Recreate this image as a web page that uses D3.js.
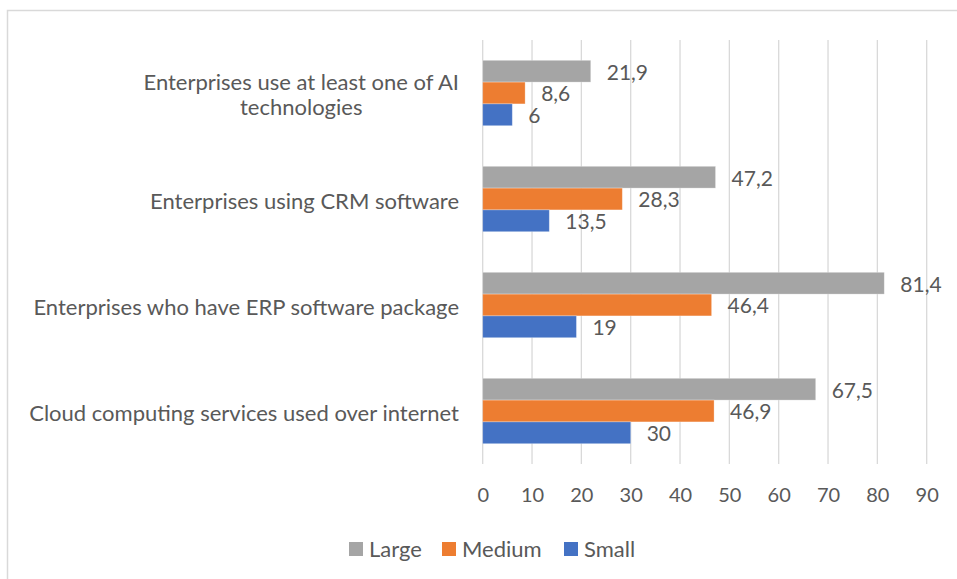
<!DOCTYPE html>
<html>
<head>
<meta charset="utf-8">
<script src="https://cdn.jsdelivr.net/npm/d3@7/dist/d3.min.js"></script>
<style>
  html, body { margin: 0; padding: 0; background: #ffffff; }
  svg { display: block; }
  text { font-family: Lato, "Open Sans", sans-serif; fill: #595959; }
</style>
</head>
<body>
<svg id="chart" width="957" height="579"></svg>
<script>
// Categories, top to bottom
const categories = [
  ["Enterprises use at least one of AI", "technologies"],
  ["Enterprises using CRM software"],
  ["Enterprises who have ERP software package"],
  ["Cloud computing services used over internet"]
];
const seriesNames = ["Large", "Medium", "Small"];
const seriesColors = ["#a5a5a5", "#ed7d31", "#4472c4"];
// Values per series, in category order
const large  = [21.9, 47.2, 81.4, 67.5];
const medium = [8.6, 28.3, 46.4, 46.9];
const small  = [6, 13.5, 19, 30];
const xTicks = [0, 10, 20, 30, 40, 50, 60, 70, 80, 90];

const seriesValues = [large, medium, small];
const fmt = v => String(v).replace(".", ",");

const svg = d3.select("#chart");

// Outer frame
svg.append("rect")
  .attr("x", 7.5).attr("y", 10.5)
  .attr("width", 960).attr("height", 580)
  .attr("fill", "none").attr("stroke", "#d9d9d9").attr("stroke-width", 1.5);

const plot = { left: 482.7, right: 926.7, top: 40, bottom: 464 };

const x = d3.scaleLinear().domain([0, 90]).range([plot.left, plot.right]);
const y0 = d3.scaleBand().domain(d3.range(categories.length))
  .range([plot.top, plot.bottom]).paddingInner(0.383).paddingOuter(0.1915);
const y1 = d3.scaleBand().domain(d3.range(seriesNames.length))
  .range([0, y0.bandwidth()]);

// Vertical gridlines
svg.append("g").selectAll("line").data(xTicks).join("line")
  .attr("x1", d => x(d)).attr("x2", d => x(d))
  .attr("y1", plot.top).attr("y2", plot.bottom)
  .attr("stroke", "#d9d9d9").attr("stroke-width", 1.3);

// X axis labels
const xAxis = d3.axisBottom(x).tickValues(xTicks).tickSize(0).tickPadding(0);
const gx = svg.append("g").attr("transform", `translate(0,${plot.bottom + 31})`).call(xAxis);
gx.select(".domain").remove();
gx.selectAll("text")
  .attr("dy", "0.35em").attr("y", 0)
  .style("font-family", "Lato, 'Open Sans', sans-serif")
  .style("font-size", "20px").style("fill", "#595959");

// Category labels: block right-aligned to the axis, lines centred within it
const catG = svg.append("g");
categories.forEach((lines, i) => {
  const cy = y0(i) + y0.bandwidth() / 2 + 2;
  const lh = 25;
  const t = catG.append("text")
    .attr("text-anchor", "middle")
    .style("font-size", "22px");
  lines.forEach((ln, j) => {
    t.append("tspan")
      .attr("x", 0)
      .attr("y", cy + (j - (lines.length - 1) / 2) * lh)
      .attr("dy", "0.35em")
      .text(ln);
  });
  const w = t.node().getBBox().width;
  t.attr("transform", `translate(${459 - w / 2},0)`);
});

// Bars and value labels
seriesValues.forEach((vals, s) => {
  const g = svg.append("g");
  g.selectAll("rect").data(vals).join("rect")
    .attr("x", x(0))
    .attr("y", (d, i) => y0(i) + y1(s))
    .attr("width", d => x(d) - x(0))
    .attr("height", y1.bandwidth())
    .attr("fill", seriesColors[s])
    .attr("stroke", "#ffffff").attr("stroke-opacity", 0.35).attr("stroke-width", 0.8);
  g.selectAll("text").data(vals).join("text")
    .attr("x", d => x(d) + 16)
    .attr("y", (d, i) => y0(i) + y1(s) + y1.bandwidth() / 2 + 1)
    .attr("dy", "0.35em")
    .style("font-size", "21px")
    .text(d => fmt(d));
});

// Legend
const legendItems = [
  { name: "Large", sx: 349 },
  { name: "Medium", sx: 442 },
  { name: "Small", sx: 564 }
];
const lg = svg.append("g");
legendItems.forEach(it => {
  lg.append("rect")
    .attr("x", it.sx).attr("y", 542).attr("width", 14).attr("height", 14)
    .attr("fill", seriesColors[seriesNames.indexOf(it.name)]);
  lg.append("text")
    .attr("x", it.sx + 20).attr("y", 549).attr("dy", "0.35em")
    .style("font-size", "22px")
    .text(it.name);
});
</script>
</body>
</html>
